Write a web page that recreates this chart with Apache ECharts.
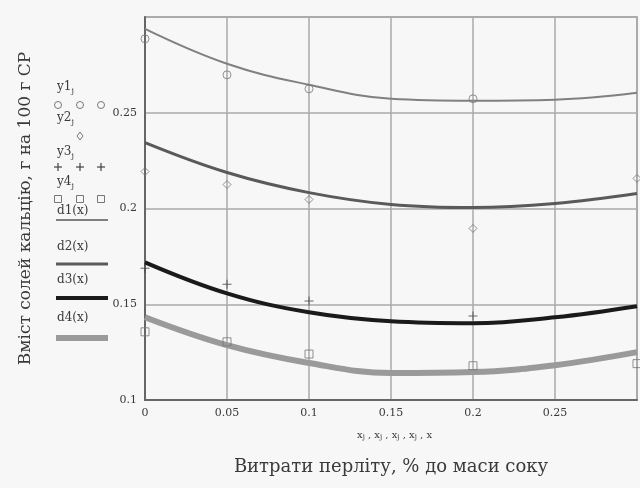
<!DOCTYPE html>
<html>
<head>
<meta charset="utf-8">
<script src="https://cdn.jsdelivr.net/npm/echarts@6/dist/echarts.min.js"></script>
<style>
  html, body { margin: 0; padding: 0; background: #f7f7f7; }
  #chart { width: 640px; height: 488px; }
</style>
</head>
<body>
<div id="chart"></div>
<script>
// measured points (x = perlite dose)
const xPts = [0, 0.05, 0.1, 0.2];
const y1 = [0.2886, 0.2698, 0.2625, 0.2573];
const y2 = [0.2193, 0.2125, 0.2047, 0.1896];
const y3 = [0.1688, 0.1604, 0.1517, 0.1438];
const y4 = [0.1356, 0.1304, 0.1240, 0.1179];
// extra points at the right edge
const xEdge = [0.3];
const y2Edge = [0.2157];
const y4Edge = [0.1190];

// fitted curves
const xFit = [0, 0.05, 0.1, 0.15, 0.2, 0.25, 0.3];
const d1 = [0.2938, 0.2756, 0.2646, 0.2573, 0.2563, 0.2568, 0.2604];
const d2 = [0.2344, 0.2188, 0.2083, 0.2021, 0.2005, 0.2026, 0.2078];
const d3 = [0.1719, 0.1557, 0.1458, 0.1411, 0.1401, 0.1432, 0.1490];
const d4 = [0.1432, 0.1286, 0.1193, 0.1141, 0.1146, 0.1182, 0.1250];

const pair = (xs, ys) => xs.map((x, i) => [x, ys[i]]);
const serif = 'DejaVu Serif';
const txt = '#3a3a3a';
const plusPath = 'path://M4,0h1v4h4v1h-4v4h-1v-4h-4v-1h4z';

const myChart = echarts.init(document.getElementById('chart'));

function pointSeries(name, data, symbol, size, filled) {
    return {
        name: name,
        type: 'scatter',
        data: data,
        symbol: symbol,
        symbolSize: size,
        itemStyle: filled
            ? { color: '#444' }
            : { color: 'rgba(0,0,0,0)', borderColor: '#777', borderWidth: 1 },
        z: 5
    };
}

function curveSeries(name, data, color, width) {
    return {
        name: name,
        type: 'line',
        data: data,
        smooth: 0.4,
        showSymbol: false,
        lineStyle: { color: color, width: width },
        z: 3
    };
}

// legend on the left (Mathcad style)
const legendItems = [];
function legText(str, y) {
    legendItems.push({
        type: 'text', left: 57, top: y - 6,
        style: {
            text: str, font: '12px ' + serif, fill: txt,
            rich: { s: { fontSize: 8, verticalAlign: 'bottom', padding: [7, 0, 0, 0], fill: txt, fontFamily: serif } }
        }
    });
}
legText('y1{s|j}', 87);
legText('y2{s|j}', 118);
legText('y3{s|j}', 152);
legText('y4{s|j}', 182);
legText('d1(x)', 211);
legText('d2(x)', 247);
legText('d3(x)', 280);
legText('d4(x)', 318);
[58, 80, 101].forEach(cx => {
    legendItems.push({ type: 'circle', shape: { cx: cx, cy: 105, r: 3.5 },
        style: { fill: 'none', stroke: '#777', lineWidth: 1 } });
    legendItems.push({ type: 'group', children: [
        { type: 'line', shape: { x1: cx - 4, y1: 167, x2: cx + 4, y2: 167 }, style: { stroke: '#444', lineWidth: 1.2 } },
        { type: 'line', shape: { x1: cx, y1: 163, x2: cx, y2: 171 }, style: { stroke: '#444', lineWidth: 1.2 } }
    ] });
    legendItems.push({ type: 'rect', shape: { x: cx - 3.5, y: 195.5, width: 7, height: 7 },
        style: { fill: 'none', stroke: '#777', lineWidth: 1 } });
});
legendItems.push({ type: 'polygon', shape: { points: [[80, 132], [83, 136], [80, 140], [77, 136]] },
    style: { fill: 'none', stroke: '#777', lineWidth: 1 } });
[[220, '#808080', 2], [264, '#5a5a5a', 3], [298, '#1a1a1a', 4], [338, '#9a9a9a', 6]].forEach(l => {
    legendItems.push({ type: 'line', shape: { x1: 56, y1: l[0], x2: 108, y2: l[0] },
        style: { stroke: l[1], lineWidth: l[2] } });
});
// small axis sub-label
legendItems.push({
    type: 'text', left: 357, top: 430,
    style: {
        text: 'x{s|j} , x{s|j} , x{s|j} , x{s|j} , x', font: '10px ' + serif, fill: txt,
        rich: { s: { fontSize: 7, verticalAlign: 'bottom', padding: [5, 0, 0, 0], fill: txt, fontFamily: serif } }
    }
});

const option = {
    backgroundColor: '#f7f7f7',
    animation: false,
    grid: {
        left: 145, top: 17, right: 0, bottom: 88,
        show: true, borderColor: '#999', borderWidth: 1.5
    },
    xAxis: {
        type: 'value',
        min: 0, max: 0.3, interval: 0.05,
        name: 'Витрати перліту, % до маси соку',
        nameLocation: 'middle',
        nameGap: 58,
        nameTextStyle: { fontFamily: serif, fontSize: 18, color: txt },
        axisLine: { lineStyle: { color: '#666', width: 2 } },
        axisTick: { show: false },
        axisLabel: {
            fontFamily: serif, fontSize: 11, color: txt, margin: 8,
            formatter: v => (v >= 0.3 ? '' : String(+v.toFixed(2)))
        },
        splitLine: { show: true, lineStyle: { color: '#aaa', width: 1.5 } }
    },
    yAxis: {
        type: 'value',
        min: 0.1, max: 0.3, interval: 0.05,
        name: 'Вміст солей кальцію, г на 100 г СР',
        nameLocation: 'middle',
        nameGap: 111,
        nameTextStyle: { fontFamily: serif, fontSize: 17, color: txt },
        axisLine: { show: true, lineStyle: { color: '#666', width: 2 } },
        axisTick: { show: false },
        axisLabel: {
            fontFamily: serif, fontSize: 11, color: txt, margin: 8,
            formatter: v => (v >= 0.3 ? '' : String(+v.toFixed(2)))
        },
        splitLine: { show: true, lineStyle: { color: '#aaa', width: 1.5 } }
    },
    graphic: legendItems,
    series: [
        curveSeries('d1(x)', pair(xFit, d1), '#808080', 2),
        curveSeries('d2(x)', pair(xFit, d2), '#5a5a5a', 3),
        curveSeries('d3(x)', pair(xFit, d3), '#1a1a1a', 4),
        curveSeries('d4(x)', pair(xFit, d4), '#9a9a9a', 6),
        pointSeries('y1', pair(xPts, y1), 'circle', 8, false),
        pointSeries('y2', pair(xPts, y2).concat(pair(xEdge, y2Edge)), 'diamond', 8, false),
        pointSeries('y3', pair(xPts, y3), plusPath, 9, true),
        pointSeries('y4', pair(xPts, y4).concat(pair(xEdge, y4Edge)), 'rect', 8, false)
    ]
};

myChart.setOption(option);
</script>
</body>
</html>
